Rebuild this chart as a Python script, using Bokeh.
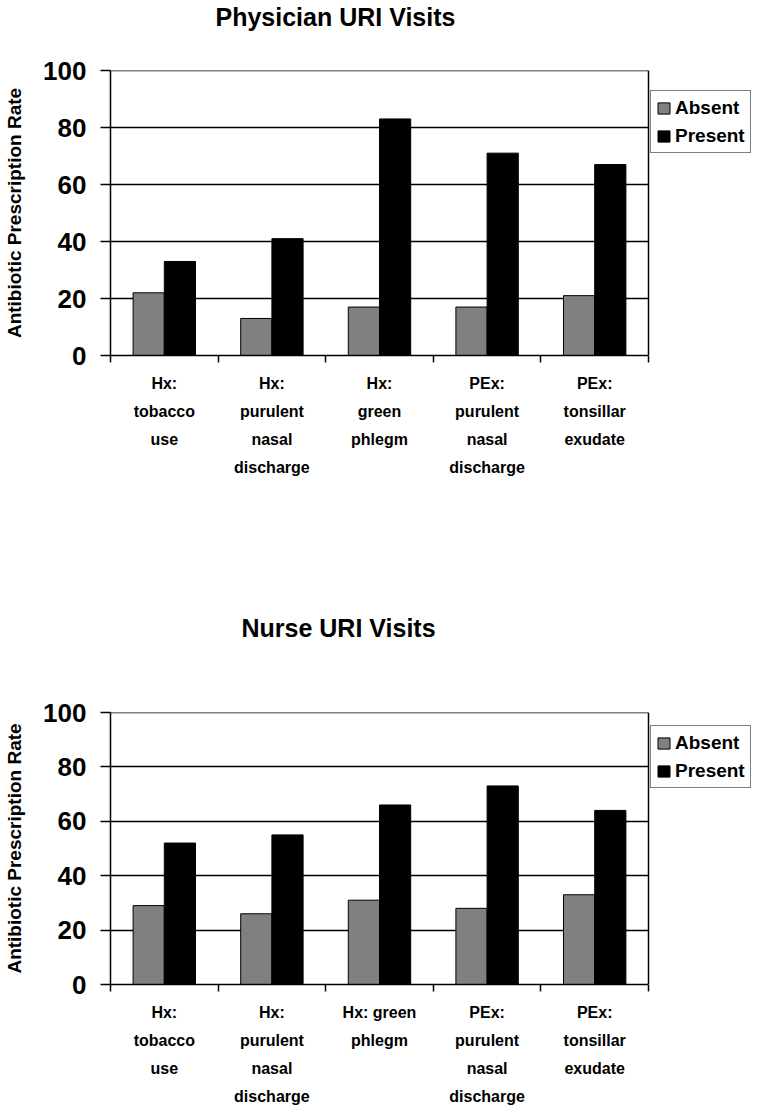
from bokeh.plotting import figure
from bokeh.models import (Range1d, LinearAxis, FixedTicker, BoxAnnotation, Span,
                          Legend, LegendItem, Title, ColumnDataSource)
from bokeh.transform import dodge
from bokeh.layouts import column
from bokeh.embed import file_html
from bokeh.resources import INLINE

# ---------------- data ----------------
phys_categories = ["Hx:\ntobacco\nuse", "Hx:\npurulent\nnasal\ndischarge", "Hx:\ngreen\nphlegm",
                   "PEx:\npurulent\nnasal\ndischarge", "PEx:\ntonsillar\nexudate"]
nurse_categories = ["Hx:\ntobacco\nuse", "Hx:\npurulent\nnasal\ndischarge", "Hx: green\nphlegm",
                    "PEx:\npurulent\nnasal\ndischarge", "PEx:\ntonsillar\nexudate"]
phys_absent = [22, 13, 17, 17, 21]
phys_present = [33, 41, 83, 71, 67]
nurse_absent = [29, 26, 31, 28, 33]
nurse_present = [52, 55, 66, 73, 64]
y_ticks = [0, 20, 40, 60, 80, 100]
series_names = ["Absent", "Present"]
series_colors = ["#808080", "#000000"]

FONT = "Liberation Sans"
FIG_W = 754
BORDER_L = 110
PLOT_W = 538            # width of the bar area; the rest of the frame holds the legend


def make_chart(title, cats, absent, present, height, border_bottom,
               title_offset, spacer_standoff, frame_height, legend_offset):
    n = len(cats)
    centers = [i + 0.5 for i in range(n)]          # slot centres on the category axis
    src = ColumnDataSource(dict(pos=centers, absent=absent, present=present))
    x_end = n * (FIG_W - BORDER_L) / PLOT_W
    p = figure(x_range=Range1d(0, x_end), y_range=Range1d(y_ticks[0], y_ticks[-1]),
               width=FIG_W, height=height, output_backend="svg", toolbar_location=None,
               title=None, min_border_left=BORDER_L, min_border_right=0,
               min_border_top=0, min_border_bottom=border_bottom)
    # spacer (nearest the frame), then the visible title
    p.add_layout(Title(text=" ", text_font_size="10px", standoff=spacer_standoff), "above")
    p.add_layout(Title(text=title, align="left", offset=title_offset, text_font=FONT,
                       text_font_style="bold", text_font_size="25px", text_color="black",
                       standoff=0), "above")
    p.outline_line_color = None
    p.xgrid.grid_line_color = None
    p.ygrid.grid_line_color = "black"
    p.ygrid.grid_line_width = 1.5
    p.ygrid.ticker = FixedTicker(ticks=y_ticks[1:-1])

    # y axis
    ya = p.yaxis[0]
    ya.ticker = FixedTicker(ticks=y_ticks)
    ya.axis_label = "Antibiotic Prescription Rate"
    ya.axis_label_text_font = FONT
    ya.axis_label_text_font_style = "bold"
    ya.axis_label_text_font_size = "19px"
    ya.axis_label_text_color = "black"
    ya.axis_label_standoff = 15
    ya.major_label_text_font = FONT
    ya.major_label_text_font_style = "bold"
    ya.major_label_text_font_size = "26px"
    ya.major_label_text_color = "black"
    ya.major_label_standoff = 14
    ya.major_tick_out = 10
    ya.major_tick_in = 0
    ya.major_tick_line_width = 1.5
    ya.minor_tick_line_color = None
    ya.axis_line_width = 1.5
    ya.axis_line_color = "black"
    ya.major_tick_line_color = "black"

    # boundary ticks (main x axis)
    ea = p.xaxis[0]
    ea.ticker = FixedTicker(ticks=list(range(n + 1)))
    ea.bounds = (0, n)
    ea.major_tick_out = 7
    ea.major_tick_in = 0
    ea.major_tick_line_width = 1.5
    ea.major_tick_line_color = "black"
    ea.minor_tick_line_color = None
    ea.axis_line_color = "black"
    ea.axis_line_width = 1.5
    ea.major_label_text_font_size = "1px"
    ea.major_label_text_color = None
    ea.major_label_standoff = 0

    # category label axis
    ca = LinearAxis(ticker=FixedTicker(ticks=centers),
                    major_label_overrides={c: lab for c, lab in zip(centers, cats)})
    ca.axis_line_color = None
    ca.major_tick_line_color = None
    ca.minor_tick_line_color = None
    ca.major_tick_out = 0
    ca.major_tick_in = 0
    ca.major_label_text_font = FONT
    ca.major_label_text_font_style = "bold"
    ca.major_label_text_font_size = "16px"
    ca.major_label_text_color = "black"
    ca.major_label_text_line_height = 1.65
    ca.major_label_standoff = 12
    p.add_layout(ca, "below")

    # top edge of the plot area (only across the bar area)
    p.segment(x0=[0], y0=[y_ticks[-1]], x1=[n], y1=[y_ticks[-1]],
              line_color="black", line_width=1.5)

    r1 = p.vbar(x=dodge("pos", -0.145), top="absent", width=0.29, source=src,
                fill_color=series_colors[0], line_color="black", line_width=1)
    r2 = p.vbar(x=dodge("pos", 0.145), top="present", width=0.29, source=src,
                fill_color=series_colors[1], line_color="black", line_width=1)

    # mask for the legend area, right edge of the plot area
    p.add_layout(BoxAnnotation(left=n, fill_color="white", fill_alpha=1.0, line_color=None))
    p.add_layout(Span(location=n, dimension="height", line_color="black", line_width=1.5))

    leg = Legend(items=[LegendItem(label=series_names[0], renderers=[r1]),
                        LegendItem(label=series_names[1], renderers=[r2])],
                 location=(PLOT_W + 2, frame_height - legend_offset - 61), margin=0,
                 padding=5, spacing=5, glyph_width=15, glyph_height=14, label_height=23,
                 label_standoff=4,
                 label_text_font=FONT, label_text_font_style="bold", label_text_font_size="19px",
                 label_text_color="black",
                 border_line_color="black", border_line_width=1.5, background_fill_alpha=1)
    p.add_layout(leg, "center")
    return p


p1 = make_chart("Physician URI Visits", phys_categories, phys_absent, phys_present,
                height=611, border_bottom=256, title_offset=105, spacer_standoff=27,
                frame_height=285, legend_offset=22)
p2 = make_chart("Nurse URI Visits", nurse_categories, nurse_absent, nurse_present,
                height=501, border_bottom=128, title_offset=131, spacer_standoff=58,
                frame_height=272, legend_offset=15)

layout = column(p1, p2, spacing=0)
open("out.html", "w").write(file_html(layout, INLINE))
